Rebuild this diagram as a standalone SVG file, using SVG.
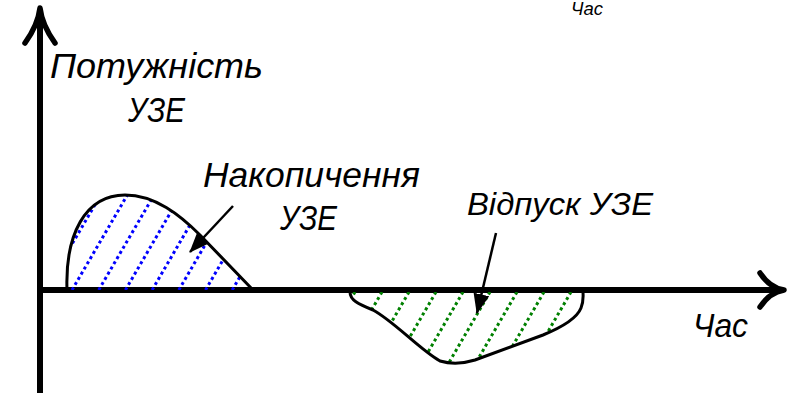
<svg xmlns="http://www.w3.org/2000/svg" width="787" height="393" viewBox="0 0 787 393">
<style>
.t{font-family:"Liberation Sans",Arial,sans-serif;font-style:italic;fill:#000}
.axis{stroke:#000;stroke-width:6;fill:none}
.head{stroke:#000;stroke-width:5.5;fill:none;stroke-linecap:round;stroke-linejoin:round}
.outline{stroke:#000;stroke-width:3;fill:none}
.hb{stroke:#0000ff;stroke-width:3;stroke-dasharray:3 3}
.hg{stroke:#008000;stroke-width:3;stroke-dasharray:3 3}
.ptr{stroke:#000;stroke-width:2.5;fill:none}
</style>
<defs>
<marker id="ah" viewBox="0 0 20 16" refX="19" refY="8" markerWidth="20" markerHeight="16" markerUnits="userSpaceOnUse" orient="auto">
<path d="M0,0 L20,8 L0,16 Z" fill="#000"/>
</marker>
<clipPath id="cb"><path d="M67,290 C65,235 85,195 125,195 C155,195 180,215 200,235 L253,290 Z"/></clipPath>
<clipPath id="cg"><path d="M350,292 C350,300 358,304 373,310 C395,322 420,350 440,361 C450,364 462,364 475,360 L543,335 C565,326 577,318 581,308 C584,300 583,295 583,292 Z"/></clipPath>
</defs>
<g id="axes">
<path class="axis" d="M40,393 V10"/>
<path class="head" d="M25,43 Q38,25 40,8 Q42,25 55,43"/>
<path class="axis" d="M40,290 H782"/>
<path class="head" d="M760,273 Q770,288 784,290 Q770,292 760,307"/>
</g>
<g id="charge">
<g clip-path="url(#cb)">
<path class="hb" d="M45.3,290 l60,-103 M72,290 l60,-103 M98.7,290 l60,-103 M125.4,290 l60,-103 M152.1,290 l60,-103 M178.8,290 l60,-103 M205.5,290 l60,-103 M232.2,290 l60,-103"/>
</g>
<path class="outline" d="M67,290 C65,235 85,195 125,195 C155,195 180,215 200,235 L253,290"/>
</g>
<g id="discharge">
<g clip-path="url(#cg)">
<path class="hg" d="M301,292 l-50,86 M328,292 l-50,86 M355,292 l-50,86 M382,292 l-50,86 M409,292 l-50,86 M436,292 l-50,86 M463,292 l-50,86 M490,292 l-50,86 M517,292 l-50,86 M544,292 l-50,86 M571,292 l-50,86 M598,292 l-50,86"/>
</g>
<path class="outline" d="M350,292 C350,300 358,304 373,310 C395,322 420,350 440,361 C450,364 462,364 475,360 L543,335 C565,326 577,318 581,308 C584,300 583,295 583,292"/>
</g>
<g id="connectors">
<path class="ptr" d="M233,206 L190,252" marker-end="url(#ah)"/>
<path class="ptr" d="M496,233 L477,313" marker-end="url(#ah)"/>
</g>
<g id="labels">
<text class="t" x="50" y="78" font-size="35" textLength="213" lengthAdjust="spacingAndGlyphs">Потужність</text>
<text class="t" x="128" y="122" font-size="35" textLength="57" lengthAdjust="spacingAndGlyphs">УЗЕ</text>
<text class="t" x="203" y="187" font-size="35" textLength="217" lengthAdjust="spacingAndGlyphs">Накопичення</text>
<text class="t" x="280" y="230" font-size="35" textLength="57" lengthAdjust="spacingAndGlyphs">УЗЕ</text>
<text class="t" x="467" y="215" font-size="32" textLength="186" lengthAdjust="spacingAndGlyphs">Відпуск УЗЕ</text>
<text class="t" x="693" y="337" font-size="34" textLength="55" lengthAdjust="spacingAndGlyphs">Час</text>
<text class="t" x="571" y="15" font-size="18" textLength="32" lengthAdjust="spacingAndGlyphs">Час</text>
</g>
</svg>
